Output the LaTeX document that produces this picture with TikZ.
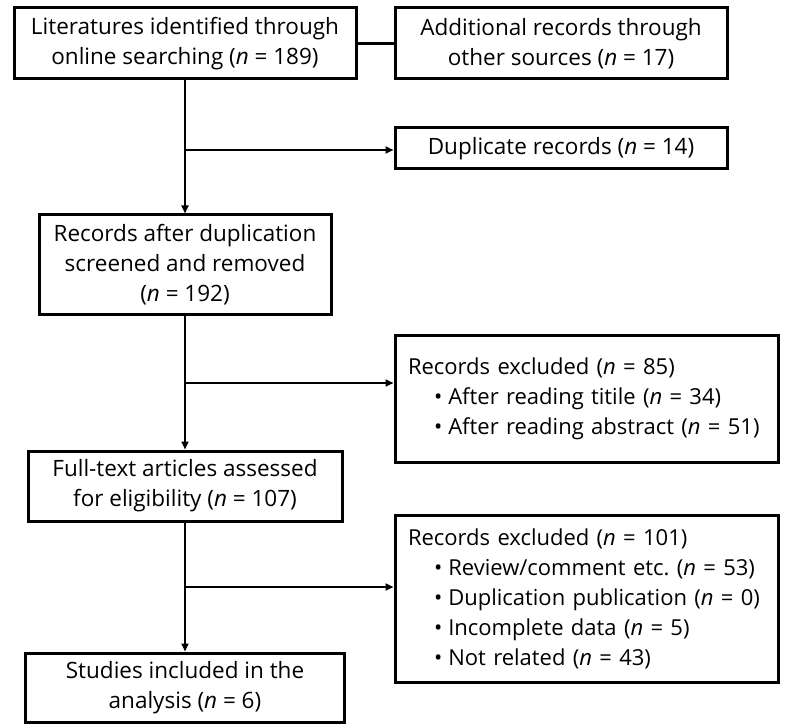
\documentclass[tikz,border=0pt]{standalone}
\usepackage{fontspec}
\setmainfont{Open Sans}
\usetikzlibrary{positioning,arrows.meta}
\newcommand{\prismafont}{\fontsize{22.5}{30}\selectfont}
\newcommand{\nn}{\textit{n}}
\newcommand{\prismahead}{\hspace*{13pt}}
\newcommand{\prismaitem}{\hspace*{39pt}\textbullet\hspace{6pt}}
\tikzset{
    prismabox/.style={draw, line width=3pt, align=center, inner sep=2pt, font=\prismafont},
    prismaexcl/.style={draw, line width=3pt, align=left, inner xsep=0pt, text width=383pt, font=\fontsize{22}{30}\selectfont},
    prismaarrow/.style={draw, line width=2.3pt, -{Triangle[length=8pt,width=7pt]}},
    prismaline/.style={draw, line width=2.3pt}
}

\begin{document}
\begin{tikzpicture}[x=1pt, y=-1pt]
    \useasboundingbox (0,0) rectangle (794,727);
    \node[prismabox, minimum width=342pt, minimum height=71pt] (search) at (185,43.5) {Literatures identified through\\online searching (\nn{} = 189)};
    \node[prismabox, minimum width=332pt, minimum height=71pt] (other) at (561,43.5) {Additional records through\\other sources (\nn{} = 17)};
    \node[prismabox, minimum width=332pt, minimum height=41pt] (dup) at (561,148.5) {Duplicate records (\nn{} = 14)};
    \node[prismabox, minimum width=292pt, minimum height=99pt] (dedup) at (185,264.5) {Records after duplication\\screened and removed\\(\nn{} = 192)};
    \node[prismaexcl, minimum height=127pt] (excla) at (586.5,398.5) {\prismahead Records excluded (\nn{} = 85)\\
        \prismaitem After reading titile (\nn{} = 34)\\
        \prismaitem After reading abstract (\nn{} = 51)};
    \node[prismabox, minimum width=314pt, minimum height=70pt] (full) at (185,486) {Full-text articles assessed\\for eligibility (\nn{} = 107)};
    \node[prismaexcl, minimum height=167pt] (exclb) at (586.5,598.5) {\prismahead Records excluded (\nn{} = 101)\\
        \prismaitem Review/comment etc.\ (\nn{} = 53)\\
        \prismaitem Duplication publication (\nn{} = 0)\\
        \prismaitem Incomplete data (\nn{} = 5)\\
        \prismaitem Not related (\nn{} = 43)};
    \node[prismabox, minimum width=319pt, minimum height=69pt] (incl) at (185,687.5) {Studies included in the\\analysis (\nn{} = 6)};

    % branch points on the main column
    \coordinate (cuta) at (185,150);
    \coordinate (cutb) at (185,383);
    \coordinate (cutc) at (185,587);

    \draw[prismaline] (search) -- (other);
    \draw[prismaarrow] (search) -- (dedup);
    \draw[prismaarrow] (dedup) -- (full);
    \draw[prismaarrow] (full) -- (incl);
    \draw[prismaarrow] (cuta) -- (cuta -| dup.west);
    \draw[prismaarrow] (cutb) -- (cutb -| excla.west);
    \draw[prismaarrow] (cutc) -- (cutc -| exclb.west);
\end{tikzpicture}
\end{document}
